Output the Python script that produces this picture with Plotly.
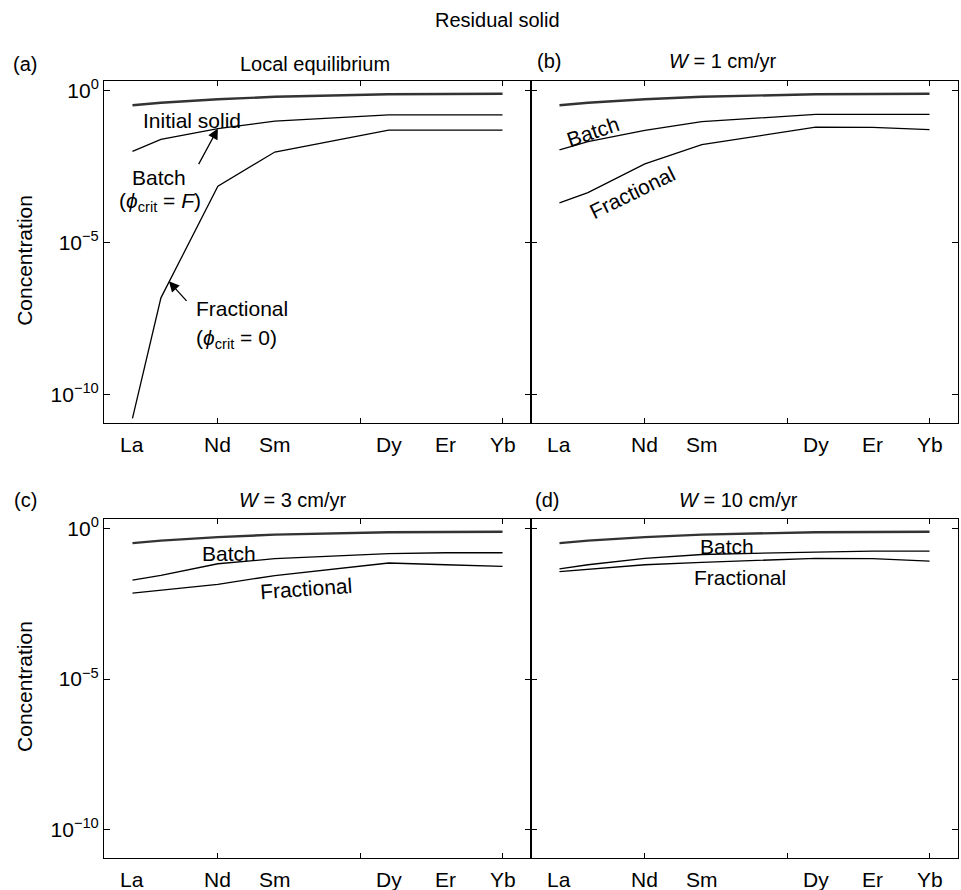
import plotly.graph_objects as go

# REE positions along the x axis (atomic number - 55)
x_pts = [2, 3, 5, 7, 11, 13, 15]          # La, Ce, Nd, Sm, Dy, Er, Yb
label_names = ["La", "Nd", "Sm", "Dy", "Er", "Yb"]
label_x = [2, 5, 7, 11, 13, 15]

# Concentrations in the residual solid
initial_solid = [0.33, 0.40, 0.52, 0.63, 0.76, 0.79, 0.79]

batch_eq = [0.010, 0.025, 0.056, 0.10, 0.160, 0.160, 0.160]
frac_eq = [1.6e-11, 1.5e-7, 7.1e-4, 9.5e-3, 0.050, 0.050, 0.050]

batch_w1 = [0.0112, 0.0209, 0.049, 0.095, 0.166, 0.166, 0.166]
frac_w1 = [2.0e-4, 4.4e-4, 3.9e-3, 0.0166, 0.063, 0.062, 0.052]

batch_w3 = [0.0195, 0.028, 0.068, 0.10, 0.148, 0.158, 0.158]
frac_w3 = [0.0072, 0.0089, 0.0141, 0.0275, 0.072, 0.063, 0.056]

batch_w10 = [0.046, 0.063, 0.102, 0.138, 0.166, 0.178, 0.178]
frac_w10 = [0.037, 0.045, 0.063, 0.076, 0.102, 0.100, 0.083]

panels = [
    ("(a)", "Local equilibrium", batch_eq, frac_eq),
    ("(b)", "<i>W</i> = 1 cm/yr", batch_w1, frac_w1),
    ("(c)", "<i>W</i> = 3 cm/yr", batch_w3, frac_w3),
    ("(d)", "<i>W</i> = 10 cm/yr", batch_w10, frac_w10),
]

W, H = 961, 890
FONT = "Liberation Sans, Arial, sans-serif"
NARROW = "Liberation Sans Narrow, Liberation Sans, Arial, sans-serif"
FS = 21

# panel boxes in pixels: (left, right, top, bottom)
boxes = [(104, 531, 77, 421), (531, 958, 77, 421),
         (104, 531, 517, 858), (531, 958, 517, 858)]
title_x = [315, 723, 293, 738]
tag_x = [25, 549, 25, 547]
title_y = [60, 57, 498, 498]


def paper_text(px, py, text, size=FS, xanchor="center", **kw):
    return dict(x=px / W, y=1 - py / H, xref="paper", yref="paper",
                text=text, showarrow=False, xanchor=xanchor,
                yanchor="middle", font=dict(size=size), **kw)


def data_text(x, y, ref, text, xanchor="center", angle=0):
    return dict(x=x, y=y, xref="x" + ref, yref="y" + ref, text=text,
                showarrow=False, xanchor=xanchor, yanchor="middle",
                textangle=angle, font=dict(size=FS))


fig = go.Figure()
layout = dict(
    width=W, height=H, margin=dict(l=0, r=0, t=0, b=0),
    paper_bgcolor="white", plot_bgcolor="white", showlegend=False,
    font=dict(family=FONT, size=FS, color="black"),
)
annotations = []

for i, (tag, title, batch, frac) in enumerate(panels):
    n = "" if i == 0 else str(i + 1)
    xa, ya = "x" + n, "y" + n
    l, r, t, b = boxes[i]
    layout["xaxis" + n] = dict(
        domain=[l / W, r / W], anchor=ya, range=[1, 16],
        tickvals=[5, 10, 15], showticklabels=False, ticks="inside",
        ticklen=5, tickcolor="black", showline=True, linecolor="black",
        linewidth=1, mirror="ticks", showgrid=False, zeroline=False,
    )
    layout["yaxis" + n] = dict(
        domain=[1 - b / H, 1 - t / H], anchor=xa, type="log",
        range=[-10.95, 0.33], tickvals=[1, 1e-5, 1e-10],
        ticktext=["10<sup>0</sup>", "10<sup>\u22125</sup>", "10<sup>\u221210</sup>"],
        showticklabels=(i % 2 == 0), ticks="inside", ticklen=6,
        tickcolor="black", showline=True, linecolor="black", linewidth=1,
        mirror="ticks", showgrid=False, zeroline=False,
        tickfont=dict(size=FS),
    )
    fig.add_trace(go.Scatter(x=x_pts, y=initial_solid, mode="lines",
                             line=dict(color="#333333", width=2.4),
                             xaxis=xa, yaxis=ya))
    fig.add_trace(go.Scatter(x=x_pts, y=batch, mode="lines",
                             line=dict(color="black", width=1.3),
                             xaxis=xa, yaxis=ya))
    fig.add_trace(go.Scatter(x=x_pts, y=frac, mode="lines",
                             line=dict(color="black", width=1.3),
                             xaxis=xa, yaxis=ya))
    # element names under the axis
    for name, xv in zip(label_names, label_x):
        annotations.append(dict(
            x=xv, y=0, xref=xa, yref=ya + " domain", text=name,
            showarrow=False, xanchor="center", yanchor="top", yshift=-8,
            font=dict(family=NARROW, size=FS)))
    annotations.append(paper_text(tag_x[i], title_y[i], tag, size=20))
    annotations.append(paper_text(title_x[i], title_y[i], title, size=20))

# overall heading and axis titles
annotations.append(paper_text(433, 16, "Residual solid", size=20,
                              xanchor="left"))
for yc in (258, 686):
    annotations.append(paper_text(25, yc, "Concentration", textangle=-90))

# curve labels, panel (a)
annotations += [
    data_text(2.3, -0.97, "", "Initial solid", xanchor="left"),
    data_text(1.9, -2.87, "", "Batch", xanchor="left"),
    data_text(1.45, -3.67, "", "(<i>\u03d5</i><sub>crit</sub> = <i>F</i>)",
              xanchor="left"),
    data_text(4.15, -7.18, "", "Fractional", xanchor="left"),
    data_text(4.15, -8.18, "", "(<i>\u03d5</i><sub>crit</sub> = 0)",
              xanchor="left"),
    # arrows pointing at the curves
    dict(x=5.0, y=-1.25, xref="x", yref="y", text="", showarrow=True,
         ax=-20, ay=37, arrowhead=2, arrowsize=1.6, arrowwidth=1.3,
         arrowcolor="black"),
    dict(x=3.28, y=-6.28, xref="x", yref="y", text="", showarrow=True,
         ax=19, ay=21, arrowhead=2, arrowsize=1.6, arrowwidth=1.3,
         arrowcolor="black"),
]
# panel (b)
annotations += [
    data_text(3.18, -1.34, "2", "Batch", angle=-19),
    data_text(4.55, -3.34, "2", "Fractional", angle=-26),
]
# panel (c)
annotations += [
    data_text(5.39, -0.83, "3", "Batch"),
    data_text(8.1, -1.99, "3", "Fractional", angle=-4),
]
# panel (d)
annotations += [
    data_text(7.88, -0.60, "4", "Batch"),
    data_text(8.33, -1.62, "4", "Fractional"),
]

layout["annotations"] = annotations
fig.update_layout(**layout)
fig.write_html("out.html")
